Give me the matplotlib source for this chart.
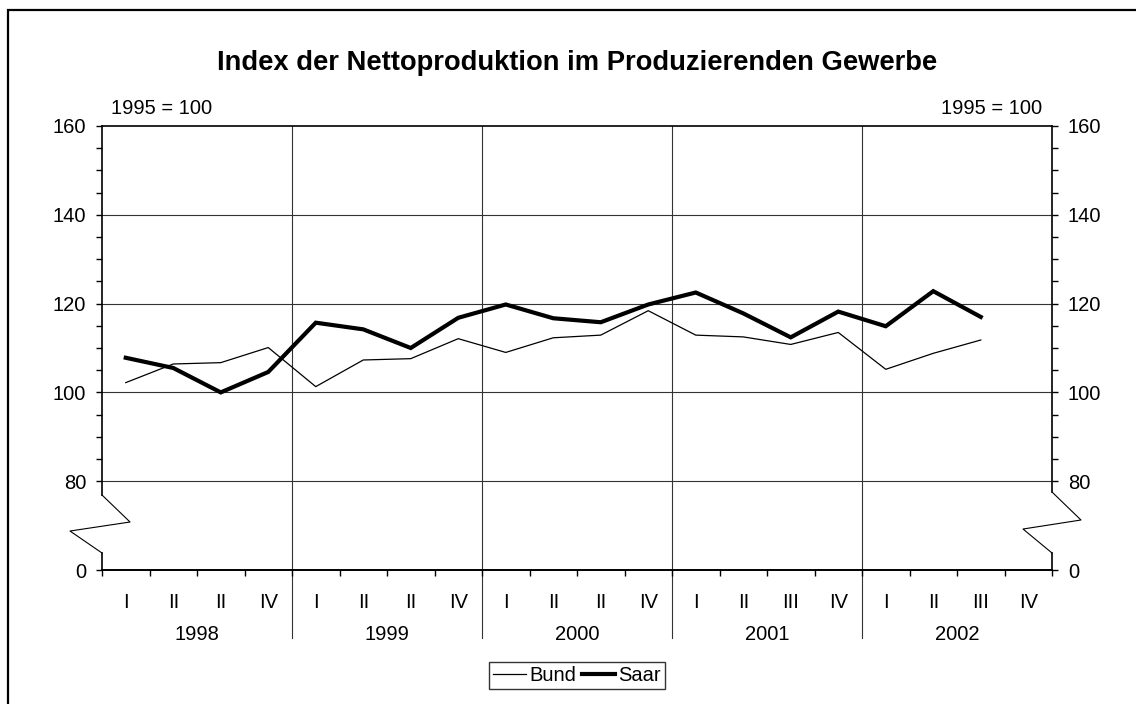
import numpy as np
import matplotlib
matplotlib.use("Agg")
import matplotlib.pyplot as plt
from matplotlib.patches import Rectangle
from matplotlib.transforms import blended_transform_factory

plt.rcParams['font.family'] = ['Liberation Sans', 'DejaVu Sans']

# Data (Index 1995 = 100), quarterly 1998 - 2002
years = ["1998", "1999", "2000", "2001", "2002"]
quarter_labels = ["I", "II", "II", "IV",
                  "I", "II", "II", "IV",
                  "I", "II", "II", "IV",
                  "I", "II", "III", "IV",
                  "I", "II", "III", "IV"]
bund = [102.2, 106.4, 106.7, 110.1,
        101.3, 107.3, 107.6, 112.1,
        109.0, 112.3, 112.9, 118.4,
        112.9, 112.5, 110.8, 113.5,
        105.2, 108.8, 111.8]
saar = [107.8, 105.5, 100.0, 104.6,
        115.7, 114.2, 110.0, 116.8,
        119.8, 116.7, 115.8, 119.8,
        122.5, 117.8, 112.4, 118.2,
        114.9, 122.8, 117.0]

# axis is broken: "0" sits where 60 would be
y_major = [60, 80, 100, 120, 140, 160]
y_major_labels = ["0", "80", "100", "120", "140", "160"]
y_minor = [v for v in range(85, 160, 5) if v % 20 != 0]

FS = 14.5
W, H = 1136, 704
fig = plt.figure(figsize=(W / 100, H / 100), dpi=100)
L, R, T, B = 102, 1052, 126, 570
ax = fig.add_axes([L / W, 1 - B / H, (R - L) / W, (B - T) / H])

# outer frame
fig.patches.append(Rectangle((8 / W, -0.05), 1.2, 1 - 10 / H + 0.05,
                             transform=fig.transFigure, fill=False,
                             edgecolor="black", linewidth=1.6))

x = np.arange(len(bund)) + 0.5
ax.plot(x, bund, color="black", linewidth=0.9, label="Bund", zorder=3)
ax.plot(x, saar, color="black", linewidth=3.0, label="Saar", zorder=4,
        solid_joinstyle="miter")

ax.set_xlim(0, 20)
ax.set_ylim(60, 160)

# grid
for v in [80, 100, 120, 140]:
    ax.axhline(v, color="#333333", linewidth=0.8, zorder=1)
for k in range(1, 5):
    ax.plot([4 * k, 4 * k], [160, 60 - 68 / 4.4375], color="#333333",
            linewidth=0.8, clip_on=False, zorder=1)

# spines
for s in ["left", "right"]:
    ax.spines[s].set_visible(False)
ax.spines["bottom"].set_linewidth(1.4)
ax.spines["top"].set_linewidth(1.2)

ta = ax.transAxes
# left broken axis
ax.plot([0, 0], [1, 0.1689], color="black", lw=1.2, transform=ta, clip_on=False)
ax.plot([0, 0], [0.0383, 0], color="black", lw=1.2, transform=ta, clip_on=False)
ax.plot([0, 0.0295, -0.0337, 0], [0.1689, 0.1081, 0.0878, 0.0383],
        color="black", lw=0.8, transform=ta, clip_on=False)
# right broken axis
ax.plot([1, 1], [1, 0.1757], color="black", lw=1.2, transform=ta, clip_on=False)
ax.plot([1, 1], [0.0383, 0], color="black", lw=1.2, transform=ta, clip_on=False)
ax.plot([1, 1.0305, 0.9695, 1], [0.1757, 0.1126, 0.0923, 0.0383],
        color="black", lw=0.8, transform=ta, clip_on=False)

# y ticks
ax.set_yticks(y_major)
ax.set_yticklabels(y_major_labels)
ax.set_yticks(y_minor, minor=True)
ax.tick_params(axis="y", which="both", direction="out", length=4.5, width=1,
               left=True, right=True, labelleft=True, labelright=True,
               labelsize=FS, pad=7)

# x ticks at quarter boundaries, labels placed as text
ax.set_xticks(range(0, 21))
ax.set_xticklabels([])
ax.tick_params(axis="x", which="major", direction="out", length=4.5, width=1)

tb = blended_transform_factory(ax.transData, ax.transAxes)
for i, q in enumerate(quarter_labels):
    ax.text(i + 0.5, -32 / 444, q, transform=tb, ha="center", va="center",
            fontsize=FS)
for i, yr in enumerate(years):
    ax.text(4 * i + 2, -64 / 444, yr, transform=tb, ha="center", va="center",
            fontsize=FS)

# unit notes
ax.text(9 / 950, 1 + 17 / 444, "1995 = 100", transform=ta, ha="left",
        va="center", fontsize=FS)
ax.text(1 - 10 / 950, 1 + 17 / 444, "1995 = 100", transform=ta, ha="right",
        va="center", fontsize=FS)

ax.set_title("Index der Nettoproduktion im Produzierenden Gewerbe",
             fontsize=19.7, fontweight="bold", pad=40)

leg = fig.legend(loc="center", bbox_to_anchor=(577 / W, 1 - 675.5 / H), ncol=2,
                 frameon=True, fancybox=False, fontsize=FS, handlelength=1.65,
                 handletextpad=0.15, columnspacing=0.3, borderpad=0.2,
                 borderaxespad=0)
leg.get_frame().set_edgecolor("black")
leg.get_frame().set_linewidth(1.0)

fig.savefig("out.png", dpi=100)
